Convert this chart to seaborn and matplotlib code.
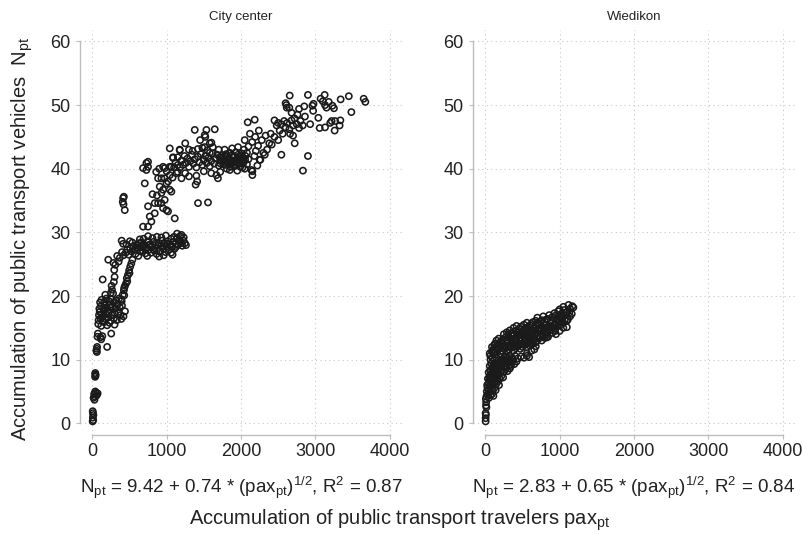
import numpy as np
import pandas as pd
import matplotlib.pyplot as plt
import seaborn as sns

# (pax_pt, N_pt), City center
city_pts = [
    (5, 0.3), (8, 0.9), (10, 1.6), (12, 0.5), (15, 1.3), (6, 1.9),
    (18, 4.0), (25, 4.6), (35, 4.2), (50, 4.8), (60, 4.4), (72, 4.7), (30, 3.7), (40, 5.0),
    (38, 7.3), (42, 7.7), (45, 7.5), (40, 7.9),
    (55, 11.4), (60, 11.7), (62, 11.2), (65, 12.0), (200, 12.0), (70, 13.6), (110, 13.5),
    (135, 13.7), (75, 14.1), (255, 14.1), (120, 13.2),
    (80, 15.6), (120, 15.3), (160, 15.9), (200, 15.4), (230, 15.8), (300, 15.5),
    (85, 16.2), (110, 16.5), (140, 16.0), (175, 16.4), (210, 16.6), (250, 16.1), (290, 16.5),
    (330, 16.2), (390, 16.4), (420, 16.8),
    (90, 17.0), (100, 17.5), (130, 17.2), (155, 17.6), (185, 17.1), (220, 17.4), (260, 17.0),
    (300, 17.3), (350, 17.5), (440, 17.6), (380, 17.0),
    (95, 18.0), (115, 18.4), (145, 18.2), (170, 18.5), (200, 18.1), (235, 18.6), (270, 18.3),
    (310, 18.0), (340, 18.7), (370, 18.2), (400, 18.5),
    (105, 19.0), (125, 19.4), (160, 19.1), (190, 19.6), (225, 19.2), (255, 19.5), (285, 19.0),
    (320, 19.3), (360, 19.6), (395, 19.2),
    (175, 20.2), (250, 20.5), (265, 21.0), (280, 20.4), (430, 20.1),
    (140, 22.6), (260, 21.6), (290, 22.2), (300, 23.0), (295, 24.1), (310, 24.9), (215, 25.7),
    (285, 25.2), (355, 25.4), (335, 26.3), (370, 26.0), (400, 26.9), (420, 26.4), (450, 26.8),
    (470, 27.3), (490, 26.5), (510, 27.5), (530, 27.0), (550, 27.8), (570, 27.3), (590, 28.0),
    (610, 27.6), (630, 28.3), (460, 28.1), (395, 28.7), (540, 28.4), (580, 26.6), (650, 27.0),
    (505, 28.6), (415, 28.2),
    (390, 19.5), (410, 20.2), (425, 20.9), (440, 21.6), (455, 22.0), (465, 22.8), (480, 23.3),
    (495, 24.0), (510, 24.6), (525, 25.1), (540, 25.7), (430, 21.3), (470, 22.3), (500, 23.6),
    (620, 26.3), (640, 27.6), (660, 28.4), (680, 27.1), (700, 28.0), (715, 26.7), (730, 27.6),
    (745, 28.6), (760, 27.3), (775, 28.1), (790, 26.8), (805, 27.7), (820, 28.5), (835, 27.1),
    (850, 28.0), (865, 26.6), (880, 27.5), (895, 28.3), (910, 27.0), (925, 27.9), (940, 28.7),
    (955, 27.4), (970, 28.2), (985, 26.9), (1000, 27.8), (1015, 28.6), (1030, 27.3),
    (1045, 28.1), (1060, 26.8), (1075, 27.7), (1090, 28.5), (1105, 27.4), (1120, 28.2),
    (1135, 29.0), (1150, 28.0), (1165, 28.8), (1180, 29.4), (1195, 28.3), (1210, 27.9),
    (1225, 28.7), (1245, 28.3), (1260, 28.0), (1140, 29.8), (1100, 29.3), (1060, 29.0),
    (990, 29.5), (930, 29.2), (870, 29.3), (810, 29.1), (750, 29.4), (690, 29.0), (640, 28.9),
    (960, 26.4), (1080, 26.5), (900, 26.2), (740, 26.3), (1200, 29.6), (1230, 29.2),
    (683, 30.9), (750, 30.9), (795, 31.7), (773, 32.5), (840, 33.0), (750, 34.1), (840, 34.6),
    (885, 34.6), (930, 34.6), (952, 33.8), (997, 33.5), (1019, 33.3), (1109, 32.2), (974, 35.1),
    (930, 36.2), (907, 37.2), (952, 36.7), (1042, 36.7), (1064, 36.4), (706, 37.7), (728, 39.8),
    (750, 40.3), (683, 40.1), (885, 38.5), (930, 38.5), (974, 38.5), (997, 37.7), (1019, 38.0),
    (1042, 39.0), (952, 40.3), (974, 40.1), (1042, 40.3), (1064, 40.3), (1042, 43.2),
    (1086, 41.7), (1176, 43.0), (728, 40.9), (750, 41.1), (860, 39.5), (900, 40.0), (1000, 39.6),
    (1100, 40.2), (1130, 39.3), (1150, 40.6), (810, 36.0), (870, 35.8), (1080, 38.6),
    (415, 35.4), (425, 35.6), (420, 34.4), (437, 33.5), (410, 34.8),
    (1120, 41.0), (1150, 41.8), (1180, 40.2), (1200, 41.3), (1220, 40.6), (1240, 42.0),
    (1260, 40.9), (1280, 41.6), (1300, 40.3), (1320, 41.2), (1340, 42.2), (1360, 40.8),
    (1380, 41.5), (1400, 40.2), (1420, 41.9), (1440, 41.0), (1460, 42.3), (1480, 40.6),
    (1500, 41.4), (1520, 42.0), (1540, 40.9), (1560, 41.7), (1580, 40.4), (1600, 41.2),
    (1620, 42.4), (1640, 40.8), (1660, 41.6), (1680, 42.2), (1700, 40.5), (1720, 41.3),
    (1740, 42.0), (1760, 40.7), (1780, 41.5), (1800, 42.3), (1820, 40.9), (1840, 41.7),
    (1860, 40.3), (1880, 41.2), (1900, 42.0), (1920, 40.6), (1940, 41.4), (1960, 42.2),
    (1980, 40.8), (2000, 41.6), (2020, 40.2), (2040, 41.1), (2060, 42.0), (2080, 40.7),
    (2100, 41.5),
    (1770, 41.1), (1790, 42.0), (1810, 40.0), (1830, 41.3), (1850, 42.5), (1870, 40.9),
    (1890, 41.8), (1910, 40.4), (1930, 42.6), (1950, 41.0), (1970, 41.9), (1990, 40.3),
    (2010, 42.4), (2030, 41.5), (1850, 39.8), (1950, 39.7), (2050, 40.0), (1780, 43.0),
    (1880, 43.2), (1960, 43.4), (2040, 43.0),
    (1350, 42.8), (1420, 43.1), (1480, 43.3), (1550, 42.9), (1620, 43.4), (1580, 44.0),
    (1300, 43.0),
    (1150, 39.5), (1250, 39.3), (1300, 38.8), (1400, 38.9), (1410, 38.0), (1390, 37.5),
    (1500, 39.6), (1600, 39.3), (1670, 39.0), (1690, 38.5), (1720, 39.5), (1200, 38.5),
    (1378, 46.1), (1512, 45.3), (1520, 45.0), (1535, 46.1), (1647, 46.2), (1602, 44.1),
    (1176, 42.9), (1086, 41.8), (1512, 43.4), (1580, 42.5), (1700, 43.0), (1714, 41.8),
    (1250, 44.0), (1450, 44.5),
    (1422, 34.6), (1556, 34.7),
    (2153, 39.6), (2153, 39.0), (2140, 39.8), (2250, 41.4), (2320, 42.2), (2260, 41.4),
    (2300, 42.5), (2350, 43.0), (2413, 43.8), (2200, 42.8), (2100, 43.5), (2150, 44.2),
    (2190, 45.0), (2230, 43.6), (2280, 44.5), (2330, 45.2), (2380, 44.0), (2090, 47.3),
    (2184, 47.7), (2120, 45.5), (2050, 44.5), (2240, 46.0), (2400, 45.5), (2180, 42.0),
    (2220, 40.5), (2080, 42.5),
    (2543, 42.2), (2500, 44.5), (2450, 45.0), (2520, 46.0), (2480, 46.8), (2560, 45.5),
    (2600, 46.5), (2620, 47.2), (2650, 46.2), (2680, 47.6), (2700, 46.8), (2720, 47.9),
    (2750, 47.0), (2780, 46.4), (2800, 47.5), (2830, 46.8), (2722, 44.0), (2660, 45.5),
    (2700, 45.2), (2580, 47.5), (2540, 47.0), (2450, 47.6), (2500, 47.2), (2655, 51.5),
    (2610, 50.0), (2615, 49.6), (2780, 49.4), (2960, 49.9), (2970, 49.1), (2600, 50.3),
    (2650, 49.6), (2850, 49.8), (2975, 50.2), (2900, 51.6), (2900, 42.0), (2833, 39.7),
    (2860, 48.2), (2930, 47.0), (2760, 48.5), (2680, 48.8),
    (3125, 51.6), (3070, 51.0), (3100, 50.6), (3130, 50.0), (3180, 50.5), (3150, 49.6),
    (3230, 49.9), (3250, 49.5), (3340, 50.9), (3450, 51.4), (3650, 51.0), (3672, 50.5),
    (3484, 48.9), (3219, 47.5), (3336, 47.6), (3326, 46.8), (3259, 46.0), (3058, 46.4),
    (3130, 46.5), (3200, 47.2), (3265, 47.5), (3040, 48.0),
    # denser spots
    (1790, 40.6), (1815, 41.9), (1845, 41.0), (1875, 42.1), (1905, 41.2), (1935, 40.9),
    (1965, 41.5), (1995, 42.0), (2025, 40.9), (2055, 41.4), (1750, 41.6), (1725, 40.8),
    (670, 27.8), (710, 27.4), (765, 28.0), (825, 27.3), (885, 28.0), (945, 27.7),
    (1005, 28.2), (1065, 27.8), (1125, 27.7), (1185, 28.6), (160, 17.8), (205, 17.6),
    (245, 18.2), (130, 16.6),
]

# (pax_pt, N_pt), Wiedikon
wied_pts = [
    (5, 0.3), (5, 0.8), (8, 1.3), (5, 1.6), (10, 2.8), (12, 3.3), (8, 3.8), (15, 2.5),
    (15, 4.2), (30, 4.5), (50, 4.0), (70, 4.4), (90, 4.6), (110, 4.3),
    (20, 5.0), (40, 5.3), (60, 5.0), (80, 5.4), (100, 5.1), (120, 5.5), (140, 5.2),
    (25, 6.0), (45, 6.3), (65, 5.9), (85, 6.2), (105, 6.0), (125, 6.4), (145, 6.1), (165, 6.5),
    (185, 6.0),
    (35, 7.0), (55, 7.3), (75, 6.9), (95, 7.2), (115, 7.0), (135, 7.4), (155, 7.1), (175, 7.5),
    (195, 7.0), (215, 7.4), (240, 7.2),
    (45, 8.0), (65, 8.3), (85, 7.9), (105, 8.2), (125, 8.0), (145, 8.4), (165, 8.1), (185, 8.5),
    (205, 8.0), (225, 8.4), (250, 8.1), (275, 8.5), (300, 8.2), (330, 8.6),
    (60, 9.0), (80, 9.4), (100, 8.9), (120, 9.3), (140, 9.0), (160, 9.4), (180, 9.1), (200, 9.5),
    (225, 9.0), (250, 9.4), (275, 9.1), (300, 9.5), (330, 9.2), (360, 9.6), (390, 9.3),
    (420, 9.7),
    (70, 10.0), (95, 10.3), (120, 9.9), (150, 10.2), (180, 10.0), (210, 10.4), (240, 10.1),
    (270, 10.5), (300, 10.2), (330, 10.6), (360, 10.3), (400, 10.6), (440, 10.2), (480, 10.5),
    (520, 10.3), (560, 10.6), (590, 10.4),
    (60, 11.0), (90, 11.3), (110, 10.9), (140, 11.2), (170, 11.5), (200, 11.0), (230, 11.4),
    (260, 11.7), (290, 11.2), (320, 11.6), (350, 11.9), (380, 11.4), (410, 11.8), (440, 12.1),
    (470, 11.7), (500, 12.0), (530, 12.3), (560, 11.9), (600, 12.2), (640, 12.5), (680, 12.1),
    (90, 12.0), (120, 12.3), (150, 12.0), (180, 12.4), (210, 12.1), (240, 12.5), (270, 12.2),
    (300, 12.6), (330, 12.3), (360, 12.7), (390, 12.4), (420, 12.8), (450, 12.5), (480, 12.9),
    (510, 12.6), (540, 13.0), (570, 12.7), (600, 13.1), (630, 12.8), (660, 13.2), (690, 12.9),
    (720, 13.3), (760, 13.0), (800, 13.4),
    (150, 13.0), (180, 13.3), (210, 12.9), (240, 13.2), (270, 13.5), (300, 13.1), (330, 13.4),
    (360, 13.7), (390, 13.3), (420, 13.6), (450, 13.9), (480, 13.5), (510, 13.8), (540, 14.1),
    (570, 13.7), (600, 14.0), (630, 14.3), (660, 13.9), (690, 14.2), (720, 14.5), (750, 14.1),
    (780, 14.4), (810, 14.0), (840, 14.3), (870, 14.6), (900, 14.2), (940, 14.5),
    (250, 14.0), (290, 14.3), (330, 14.6), (370, 14.2), (410, 14.5), (450, 14.8), (490, 14.4),
    (530, 14.7), (570, 15.0), (610, 14.6), (650, 14.9), (690, 15.2), (730, 14.8), (770, 15.1),
    (810, 15.4), (850, 15.0), (890, 15.3), (930, 15.6), (970, 15.2), (1010, 15.5), (1050, 15.8),
    (380, 15.0), (420, 15.3), (480, 15.2), (520, 15.5), (560, 15.8), (600, 15.4), (640, 15.9),
    (680, 16.1), (720, 15.7), (760, 16.2), (800, 16.0), (840, 16.4), (880, 16.1), (920, 16.6),
    (960, 16.3), (1000, 16.8), (1040, 16.5), (1080, 17.0), (1110, 16.3), (1140, 16.8),
    (700, 16.6), (780, 16.8), (860, 17.0), (930, 17.3), (980, 17.6), (1020, 17.2), (1060, 17.8),
    (1100, 17.5), (1140, 18.0), (1120, 18.6), (1170, 18.4), (1185, 18.2), (1163, 17.2),
    (1097, 16.1), (845, 13.6), (1050, 18.3), (1000, 17.9),
    (828, 13.5), (1000, 14.5), (1097, 15.1), (1050, 15.0), (950, 14.0),
    (67, 10.6), (112, 11.2), (100, 11.5), (130, 12.5), (160, 11.8),
    # denser spots
    (30, 5.6), (50, 6.7), (70, 7.6), (90, 8.6), (110, 7.6), (130, 8.6), (150, 7.7), (170, 8.8),
    (195, 8.7), (215, 9.8), (260, 9.8), (285, 8.8), (315, 9.9), (345, 9.0), (375, 10.0),
    (195, 11.8), (225, 12.8), (255, 12.0), (285, 12.9), (315, 12.0), (345, 13.1), (375, 12.0),
    (405, 13.1), (435, 12.3), (465, 13.3), (495, 12.4), (525, 13.5), (555, 12.5), (585, 13.5),
    (615, 12.6), (645, 13.6), (675, 12.7), (705, 13.8), (740, 13.6), (770, 13.7), (820, 13.9),
    (310, 14.0), (350, 14.1), (390, 14.0), (430, 14.2), (470, 14.1), (510, 14.3), (550, 14.4),
    (590, 14.3), (630, 14.6), (670, 14.5), (710, 14.8), (750, 14.8), (790, 14.9), (830, 15.0),
    (870, 15.2), (910, 15.1), (950, 15.5), (990, 15.8), (1030, 16.1), (1070, 16.2),
    (540, 15.0), (620, 15.6), (700, 15.8), (740, 16.0), (820, 16.3), (900, 16.7), (940, 16.9),
    (1020, 16.6), (1090, 17.4), (1130, 17.4), (560, 11.0), (620, 11.4), (660, 11.6),
]

panel_titles = ['City center', 'Wiedikon']
fit_labels = [r'N$_{pt}$ = 9.42 + 0.74 * (pax$_{pt}$)$^{1/2}$, R$^2$ = 0.87',
              r'N$_{pt}$ = 2.83 + 0.65 * (pax$_{pt}$)$^{1/2}$, R$^2$ = 0.84']
x_ticks = [0, 1000, 2000, 3000, 4000]
y_ticks = [0, 10, 20, 30, 40, 50, 60]

sns.set_style('white')
plt.rcParams['font.family'] = ['Liberation Sans', 'DejaVu Sans']
plt.rcParams['mathtext.default'] = 'regular'

frames = [pd.DataFrame(city_pts, columns=['pax', 'n']),
          pd.DataFrame(wied_pts, columns=['pax', 'n'])]

fig = plt.figure(figsize=(8.04, 5.35), dpi=100)
W, H = 804, 535
axes = [fig.add_axes([80 / W, 100 / H, 322 / W, 405 / H]),
        fig.add_axes([473 / W, 100 / H, 322 / W, 405 / H])]

txt = '#222222'
axis_grey = '#bdbdbd'

for ax, df, title, fit in zip(axes, frames, panel_titles, fit_labels):
    sns.scatterplot(data=df, x='pax', y='n', ax=ax, marker='o', s=20,
                    facecolors='none', edgecolor='#1a1a1a', linewidth=1.15, zorder=3)
    ax.set_xlim(-165, 4165)
    ax.set_ylim(-1.84, 61.8)
    ax.set_xticks(x_ticks)
    ax.set_yticks(y_ticks)
    ax.grid(True, linestyle=(0, (1, 3)), color='#c8c8c8', linewidth=0.8)
    ax.set_axisbelow(True)
    for side in ['top', 'right']:
        ax.spines[side].set_visible(False)
    ax.spines['left'].set_bounds(0, 60)
    ax.spines['bottom'].set_bounds(0, 4000)
    for side in ['left', 'bottom']:
        ax.spines[side].set_color(axis_grey)
        ax.spines[side].set_linewidth(1.0)
    ax.tick_params(axis='both', direction='out', length=3, width=0.8, color=axis_grey,
                   labelsize=13, labelcolor=txt, left=True, bottom=True)
    ax.tick_params(axis='y', pad=4)
    ax.tick_params(axis='x', pad=3)
    ax.set_title(title, fontsize=9.5, color=txt, pad=7)
    ax.set_xlabel(fit, fontsize=13.5, color=txt, labelpad=10)
    ax.set_ylabel('')

fig.text(400 / W, 1 - 520 / H, r'Accumulation of public transport travelers pax$_{pt}$',
         ha='center', va='center', fontsize=14.5, color=txt)
fig.text(22 / W, 1 - 239 / H, r'Accumulation of public transport vehicles  N$_{pt}$',
         ha='center', va='center', rotation=90, fontsize=14.5, color=txt)

fig.savefig('out.png', dpi=100)
